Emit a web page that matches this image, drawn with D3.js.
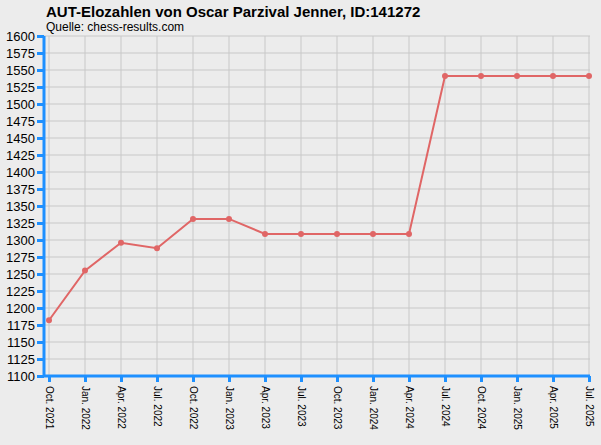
<!DOCTYPE html><html><head><meta charset="utf-8">
<script src="https://cdn.jsdelivr.net/npm/d3@7"></script>
<style>body{margin:0;background:#ececec}svg{display:block}</style></head><body>
<svg id="c" width="601" height="445"></svg>
<script>
const categories=["Oct. 2021","Jan. 2022","Apr. 2022","Jul. 2022","Oct. 2022","Jan. 2023","Apr. 2023","Jul. 2023","Oct. 2023","Jan. 2024","Apr. 2024","Jul. 2024","Oct. 2024","Jan. 2025","Apr. 2025","Jul. 2025"];
const elo=[1182,1255,1296,1288,1331,1331,1309,1309,1309,1309,1309,1541,1541,1541,1541,1541];
const yTicks=d3.range(1100,1601,25);
const F="'Liberation Sans', Arial, sans-serif";
const svg=d3.select("#c");
svg.append("rect").attr("width",601).attr("height",445).attr("fill","#ececec");
const x=d3.scalePoint().domain(categories).range([49,589]);
const y=d3.scaleLinear().domain([1100,1600]).range([376,36]);
const g=svg.append("g");
g.selectAll("line.h").data(yTicks).join("line").attr("x1",44).attr("x2",590).attr("y1",d=>y(d)).attr("y2",d=>y(d)).attr("stroke","#c8c8c8");
g.selectAll("line.v").data(categories).join("line").attr("x1",d=>x(d)).attr("x2",d=>x(d)).attr("y1",36).attr("y2",376).attr("stroke","#c8c8c8");
const ya=svg.append("g").attr("transform","translate(44,0)").call(d3.axisLeft(y).tickValues(yTicks).tickFormat(d3.format("d")).tickSize(7).tickPadding(2));
const xa=svg.append("g").attr("transform","translate(0,376)").call(d3.axisBottom(x).tickSize(6).tickPadding(4));
[ya,xa].forEach(a=>{a.selectAll("path,line").attr("stroke","#1e90ff").attr("stroke-width",3);a.selectAll("text").attr("fill","#000").style("font","13px "+F);});
ya.select("path").attr("d","M0,36V376");
xa.select("path").attr("d","M44,0H590");
xa.selectAll("text").attr("transform","rotate(90)").attr("text-anchor","start").attr("dy","0.35em").attr("x",10).attr("y",0).style("font-size","10px");
svg.append("path").datum(elo).attr("fill","none").attr("stroke","#e06666").attr("stroke-width",2)
 .attr("d",d3.line().x((d,i)=>x(categories[i])).y(d=>y(d)));
svg.selectAll("circle.p").data(elo).join("circle").attr("cx",(d,i)=>x(categories[i])).attr("cy",d=>y(d)).attr("r",3).attr("fill","#e06666");
svg.append("text").attr("x",46).attr("y",17).text("AUT-Elozahlen von Oscar Parzival Jenner, ID:141272").style("font","bold 15px "+F);
svg.append("text").attr("x",46).attr("y",31).text("Quelle: chess-results.com").style("font","12px "+F);
</script></body></html>
